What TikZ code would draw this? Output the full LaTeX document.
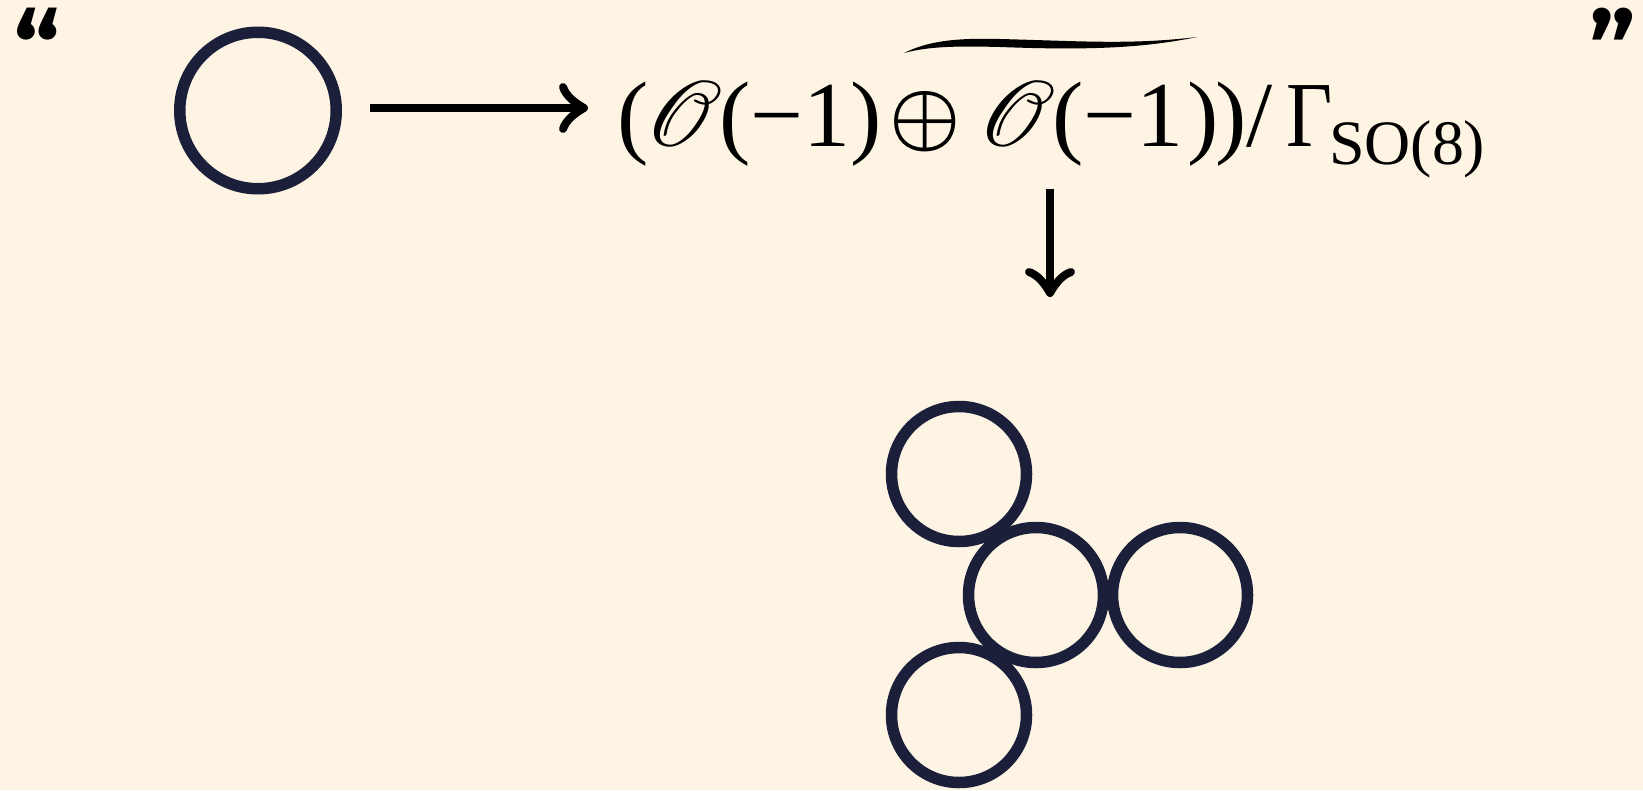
\documentclass[tikz,border=0pt]{standalone}
\usepackage{fontspec}
\usepackage{graphicx}
\usepackage{mathrsfs}
\DeclareFontFamily{U}{rsfs}{\skewchar\font127 }
\DeclareFontShape{U}{rsfs}{m}{n}{<-> rsfs10}{}
\usetikzlibrary{arrows.meta}
\newfontfamily\qfont{Fira Sans}
\newfontfamily\tfont{Liberation Serif}
\definecolor{bg}{RGB}{254,244,228}
\definecolor{ink}{RGB}{27,31,58}
\tikzset{
  ring/.style={circle, draw=ink, line width=11.5pt, inner sep=0pt, minimum size=#1},
  shaft/.style={line width=8pt, line cap=butt},
  cmhead/.pic={\draw[line width=8pt, line cap=round, line join=round]
     (-21,-21) .. controls (-18,-12) and (-9,-5) .. (0,0)
     .. controls (-9,5) and (-18,12) .. (-21,21);},
  quote/.style={inner sep=0pt, font=\qfont\bfseries\fontsize{105}{110}\selectfont}
}
\begin{document}
\begin{tikzpicture}[x=1pt,y=-1pt]
\fill[bg] (0,0) rectangle (1643,790);
\useasboundingbox (0,0) rectangle (1643,790);
% quotes
\node[quote, anchor=base west] (ql) at (13,88) {“};
\node[quote, anchor=base east] (qr) at (1637,88) {”};
% left circle
\node[ring=156.5pt] (c0) at (258,110.5) {};
% formula
\node[anchor=base west, inner sep=0pt] (F) at (617,146)
  {\scalebox{9.4}[9.3]{\tfont (\kern-0.35pt$\mathscr{O}$\kern-0.3pt(−1)\kern0.8pt\raisebox{0.45pt}{\scalebox{0.85}{\boldmath$\oplus$}}\kern1.85pt$\mathscr{O}$\kern-0.3pt(−1\kern0.4pt)\kern-0.4pt)/\kern1.5pt\scalebox{0.85}[1]{Γ}\kern-0.4pt\raisebox{-2pt}{\fontsize{6.8}{8}\selectfont SO(8)}}};
% tilde
\fill[black] (904,53) .. controls (930,40) and (960,38) .. (1000,39)
  .. controls (1080,41) and (1130,45) .. (1197,37)
  .. controls (1140,49) and (1080,50) .. (1000,47)
  .. controls (960,46) and (930,46) .. (904,53) -- cycle;
% arrows
\coordinate (r1) at (370,108);
\coordinate (r2) at (584,108);
\draw[shaft] (r1) -- ([xshift=-3pt]r2);
\pic at (r2) {cmhead};
\coordinate (d1) at (1050,189);
\coordinate (d2) at (1050,293);
\draw[shaft] (d1) -- ([yshift=3pt]d2);
\pic[rotate=-90] at (d2) {cmhead};
% cluster
\node[ring=135pt] (tl) at (959,474) {};
\node[ring=135pt] (m) at (1036,595) {};
\node[ring=135pt] (r) at (1180,595) {};
\node[ring=135pt] (bl) at (959,715) {};
\end{tikzpicture}
\end{document}
